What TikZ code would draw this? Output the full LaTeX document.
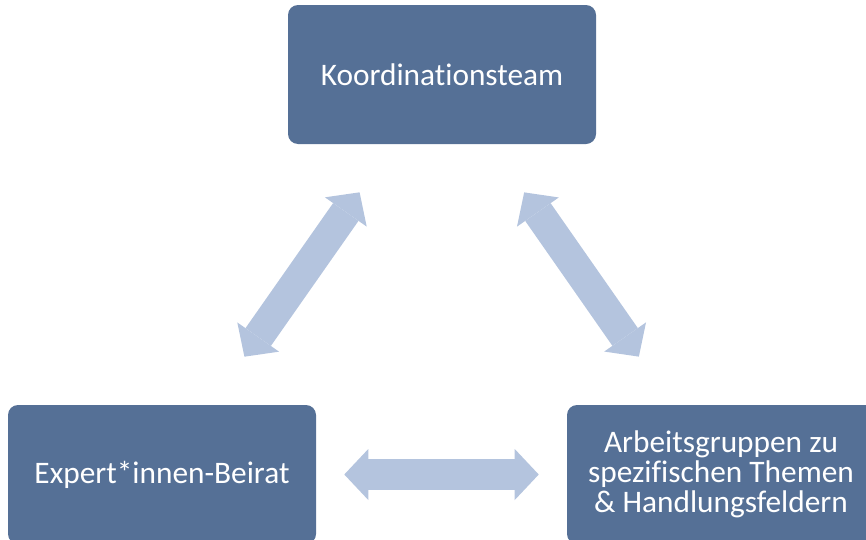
\documentclass[tikz,border=0pt]{standalone}
\usepackage{fontspec}
\setmainfont{Carlito}[Ligatures=NoCommon]
\usetikzlibrary{arrows.meta}

\definecolor{boxblue}{HTML}{557096}
\definecolor{arrowblue}{HTML}{B4C4DE}

\begin{document}
\begin{tikzpicture}[
  x=0.75pt, y=-0.75pt,
  unit/.style={rounded corners=7.5pt, align=center, minimum width=231pt,
               minimum height=104.25pt, fill=boxblue, text=white,
               font=\fontsize{23.5}{22.5}\selectfont},
  link/.style={{Triangle[length=18pt, width=38.25pt, line width=0pt]}-{Triangle[length=18pt, width=38.25pt, line width=0pt]},
               line width=23.25pt, arrowblue},
]
  \useasboundingbox (0,0) rectangle (866,539);
  \clip (0,0) rectangle (866,539);

  \node[unit] (koord) at (442,74.5) {Koordinationsteam};
  \node[unit] (beirat) at (162,474.5) {Expert*innen-Beirat};
  \node[unit] (ag) at (721,474.5) {Arbeitsgruppen zu\\spezifischen Themen\\\& Handlungsfeldern};

  \draw[link, shorten <=44pt, shorten >=44pt] (koord) -- (beirat);
  \draw[link, shorten <=44pt, shorten >=44pt] (koord) -- (ag);
  \draw[link, shorten <=21pt, shorten >=21pt] (beirat) -- (ag);
\end{tikzpicture}
\end{document}
